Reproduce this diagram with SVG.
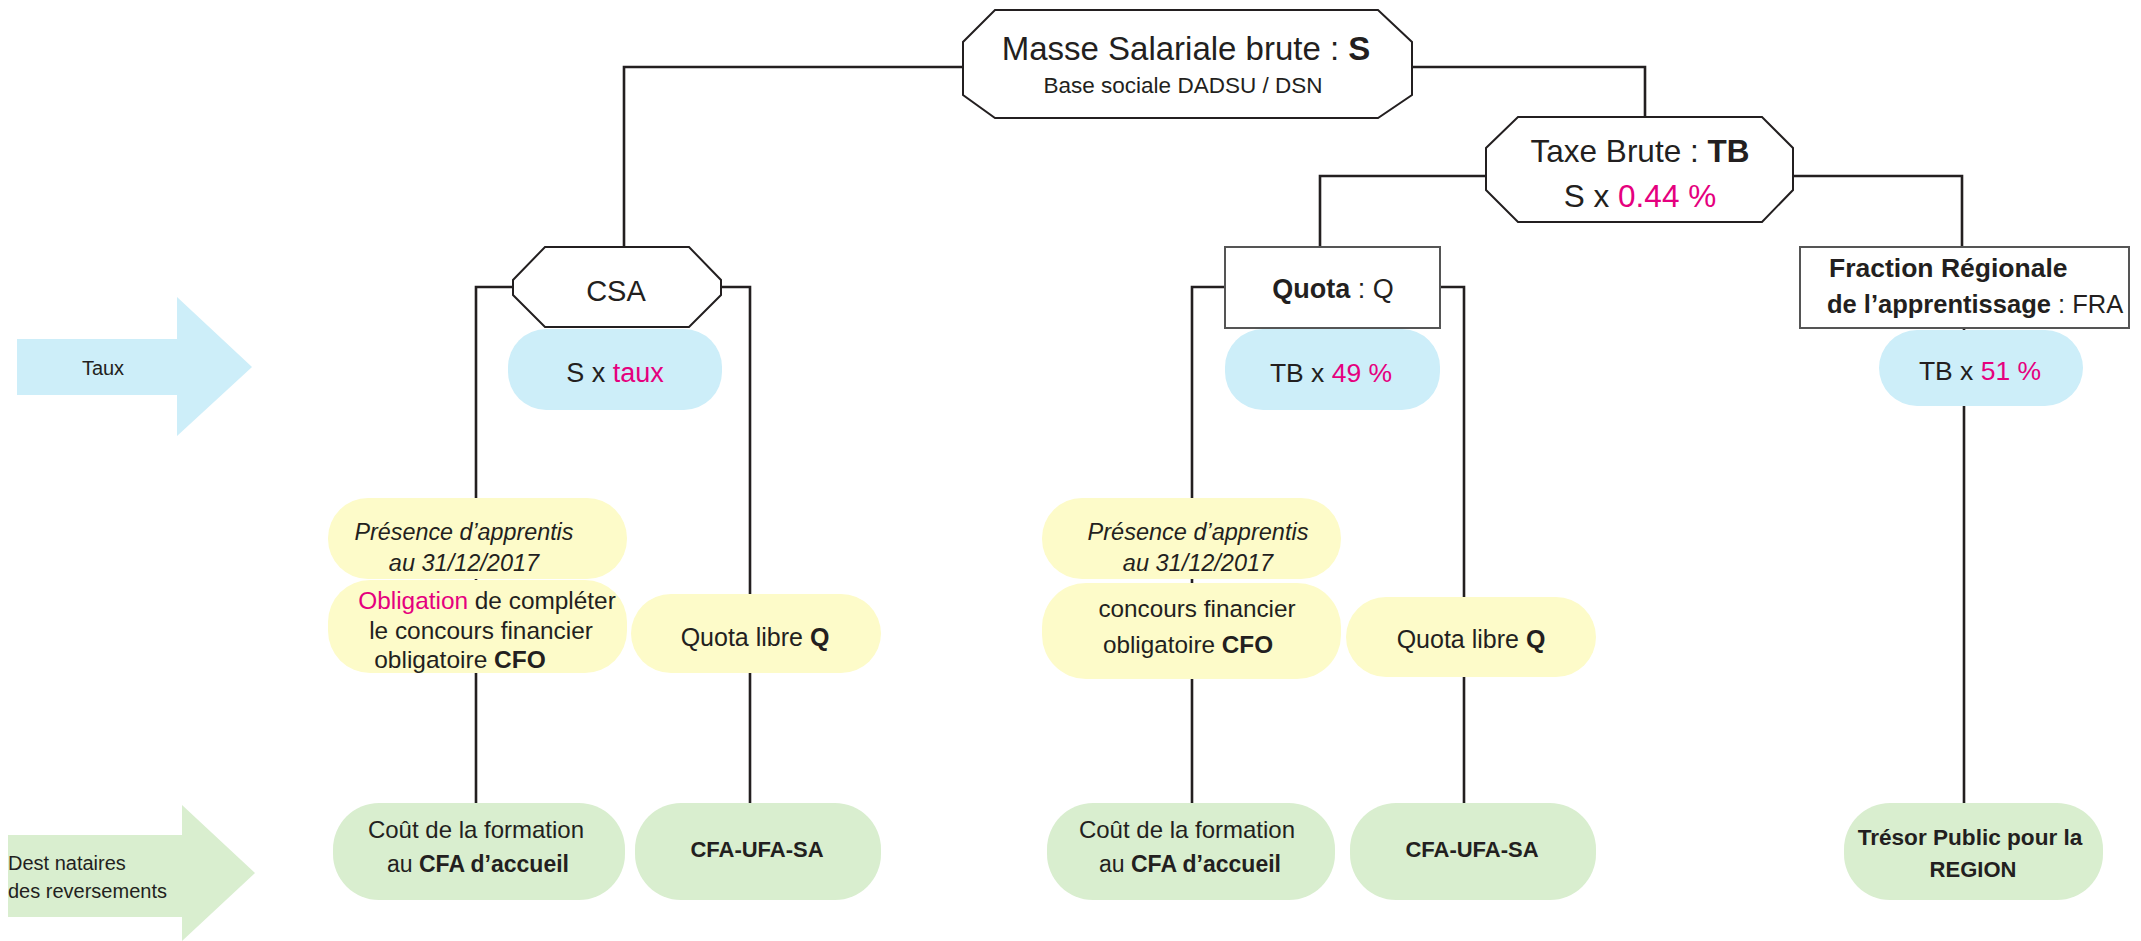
<svg xmlns="http://www.w3.org/2000/svg" width="2141" height="941" viewBox="0 0 2141 941">
<style>
text{font-family:"Liberation Sans",Arial,sans-serif;fill:#231f20}
.c{text-anchor:middle}
.b{font-weight:bold}
.i{font-style:italic}
.pk{fill:#e5007e}
.ln{fill:none;stroke:#231f20;stroke-width:2.6}
.oct{fill:#fff;stroke:#231f20;stroke-width:2}
.box{fill:#fff;stroke:#555;stroke-width:2}
.blue{fill:#cdeef9}
.yel{fill:#fdfbc9}
.grn{fill:#d9eecf}
</style>
<rect width="2141" height="941" fill="#fff"/>
<g id="connectors">
<path class="ln" d="M963,67 H624 V247"/>
<path class="ln" d="M1412,67 H1645 V117"/>
<path class="ln" d="M1486,176 H1320 V247"/>
<path class="ln" d="M1793,176 H1962 V247"/>
<path class="ln" d="M513,287 H476 V803"/>
<path class="ln" d="M721,287 H750 V803"/>
<path class="ln" d="M1225,287 H1192 V803"/>
<path class="ln" d="M1440,287 H1464 V803"/>
<path class="ln" d="M1964,328 V803"/>
</g>
<g id="arrow-taux">
<polygon fill="#cdeef9" points="17,339 177,339 177,297 252,367 177,436 177,395 17,395"/>
<text x="103" y="375" class="c" font-size="20">Taux</text>
</g>
<g id="arrow-dest">
<polygon fill="#d9eecf" points="8,835 182,835 182,805 255,873 182,941 182,917 8,917"/>
<text x="8" y="870" font-size="20">Dest nataires</text>
<text x="8" y="898" font-size="20">des reversements</text>
</g>
<g id="node-masse">
<polygon class="oct" points="995,10 1378,10 1412,42 1412,95 1378,118 995,118 963,95 963,42"/>
<text x="1186" y="60" class="c" font-size="33">Masse Salariale brute : <tspan class="b">S</tspan></text>
<text x="1183" y="93" class="c" font-size="22.5">Base sociale DADSU / DSN</text>
</g>
<g id="node-taxe">
<polygon class="oct" points="1518,117 1762,117 1793,148 1793,190 1762,222 1518,222 1486,190 1486,148"/>
<text x="1640" y="162" class="c" font-size="31.5">Taxe Brute : <tspan class="b">TB</tspan></text>
<text x="1640" y="207" class="c" font-size="31.5">S x <tspan class="pk">0.44 %</tspan></text>
</g>
<g id="node-csa">
<polygon class="oct" points="545,247 689,247 721,280 721,295 689,327 545,327 513,295 513,280"/>
<text x="616" y="301" class="c" font-size="29">CSA</text>
</g>
<g id="node-csa-taux">
<rect class="blue" x="508" y="329" width="214" height="81" rx="38"/>
<text x="615" y="382" class="c" font-size="27">S x <tspan class="pk">taux</tspan></text>
</g>
<g id="node-quota">
<rect class="box" x="1225" y="247" width="215" height="81"/>
<text x="1333" y="298" class="c" font-size="27"><tspan class="b">Quota</tspan> : Q</text>
</g>
<g id="node-quota-taux">
<rect class="blue" x="1225" y="329" width="215" height="81" rx="38"/>
<text x="1331" y="382" class="c" font-size="26.5">TB x <tspan class="pk">49 %</tspan></text>
</g>
<g id="node-fra">
<rect class="box" x="1800" y="247" width="329" height="81"/>
<text x="1829" y="277" class="b" font-size="26.5">Fraction Régionale</text>
<text x="1827" y="313" font-size="25.5"><tspan class="b">de l’apprentissage</tspan> : FRA</text>
</g>
<g id="node-fra-taux">
<rect class="blue" x="1879" y="330" width="204" height="76" rx="38"/>
<text x="1980" y="380" class="c" font-size="26.5">TB x <tspan class="pk">51 %</tspan></text>
</g>
<g id="node-presence-1">
<rect class="yel" x="328" y="498" width="299" height="81" rx="40"/>
<text x="464" y="540" class="c i" font-size="23.3">Présence d’apprentis</text>
<text x="464" y="571" class="c i" font-size="23.5">au 31/12/2017</text>
</g>
<g id="node-obligation">
<rect class="yel" x="328" y="580" width="299" height="93" rx="42"/>
<text x="487" y="609" class="c" font-size="24.4"><tspan class="pk">Obligation</tspan> de compléter</text>
<text x="481" y="639" class="c" font-size="24.4">le concours financier</text>
<text x="460" y="668" class="c" font-size="24.5" fill="#000">obligatoire <tspan class="b">CFO</tspan></text>
</g>
<g id="node-quota-libre-1">
<rect class="yel" x="631" y="594" width="250" height="79" rx="40"/>
<text x="755" y="646" class="c" font-size="25">Quota libre <tspan class="b">Q</tspan></text>
</g>
<g id="node-presence-2">
<rect class="yel" x="1042" y="498" width="299" height="81" rx="40"/>
<text x="1198" y="540" class="c i" font-size="23.5">Présence d’apprentis</text>
<text x="1198" y="571" class="c i" font-size="23.5">au 31/12/2017</text>
</g>
<g id="node-concours">
<rect class="yel" x="1042" y="583" width="299" height="96" rx="44"/>
<text x="1197" y="617" class="c" font-size="24.3">concours financier</text>
<text x="1188" y="653" class="c" font-size="24.3">obligatoire  <tspan class="b">CFO</tspan></text>
</g>
<g id="node-quota-libre-2">
<rect class="yel" x="1346" y="597" width="250" height="80" rx="40"/>
<text x="1471" y="648" class="c" font-size="25">Quota libre <tspan class="b">Q</tspan></text>
</g>
<g id="node-cout-1">
<rect class="grn" x="333" y="803" width="292" height="97" rx="46"/>
<text x="476" y="838" class="c" font-size="24">Coût de la formation</text>
<text x="478" y="872" class="c" font-size="23">au <tspan class="b">CFA d’accueil</tspan></text>
</g>
<g id="node-cfa-1">
<rect class="grn" x="635" y="803" width="246" height="97" rx="46"/>
<text x="757" y="857" class="c b" font-size="22">CFA-UFA-SA</text>
</g>
<g id="node-cout-2">
<rect class="grn" x="1047" y="803" width="288" height="97" rx="46"/>
<text x="1187" y="838" class="c" font-size="24">Coût de la formation</text>
<text x="1190" y="872" class="c" font-size="23">au <tspan class="b">CFA d’accueil</tspan></text>
</g>
<g id="node-cfa-2">
<rect class="grn" x="1350" y="803" width="246" height="97" rx="46"/>
<text x="1472" y="857" class="c b" font-size="22">CFA-UFA-SA</text>
</g>
<g id="node-tresor">
<rect class="grn" x="1844" y="803" width="259" height="97" rx="46"/>
<text x="1970" y="845" class="c b" font-size="22.6">Trésor Public pour la</text>
<text x="1973" y="877" class="c b" font-size="22">REGION</text>
</g>
</svg>
